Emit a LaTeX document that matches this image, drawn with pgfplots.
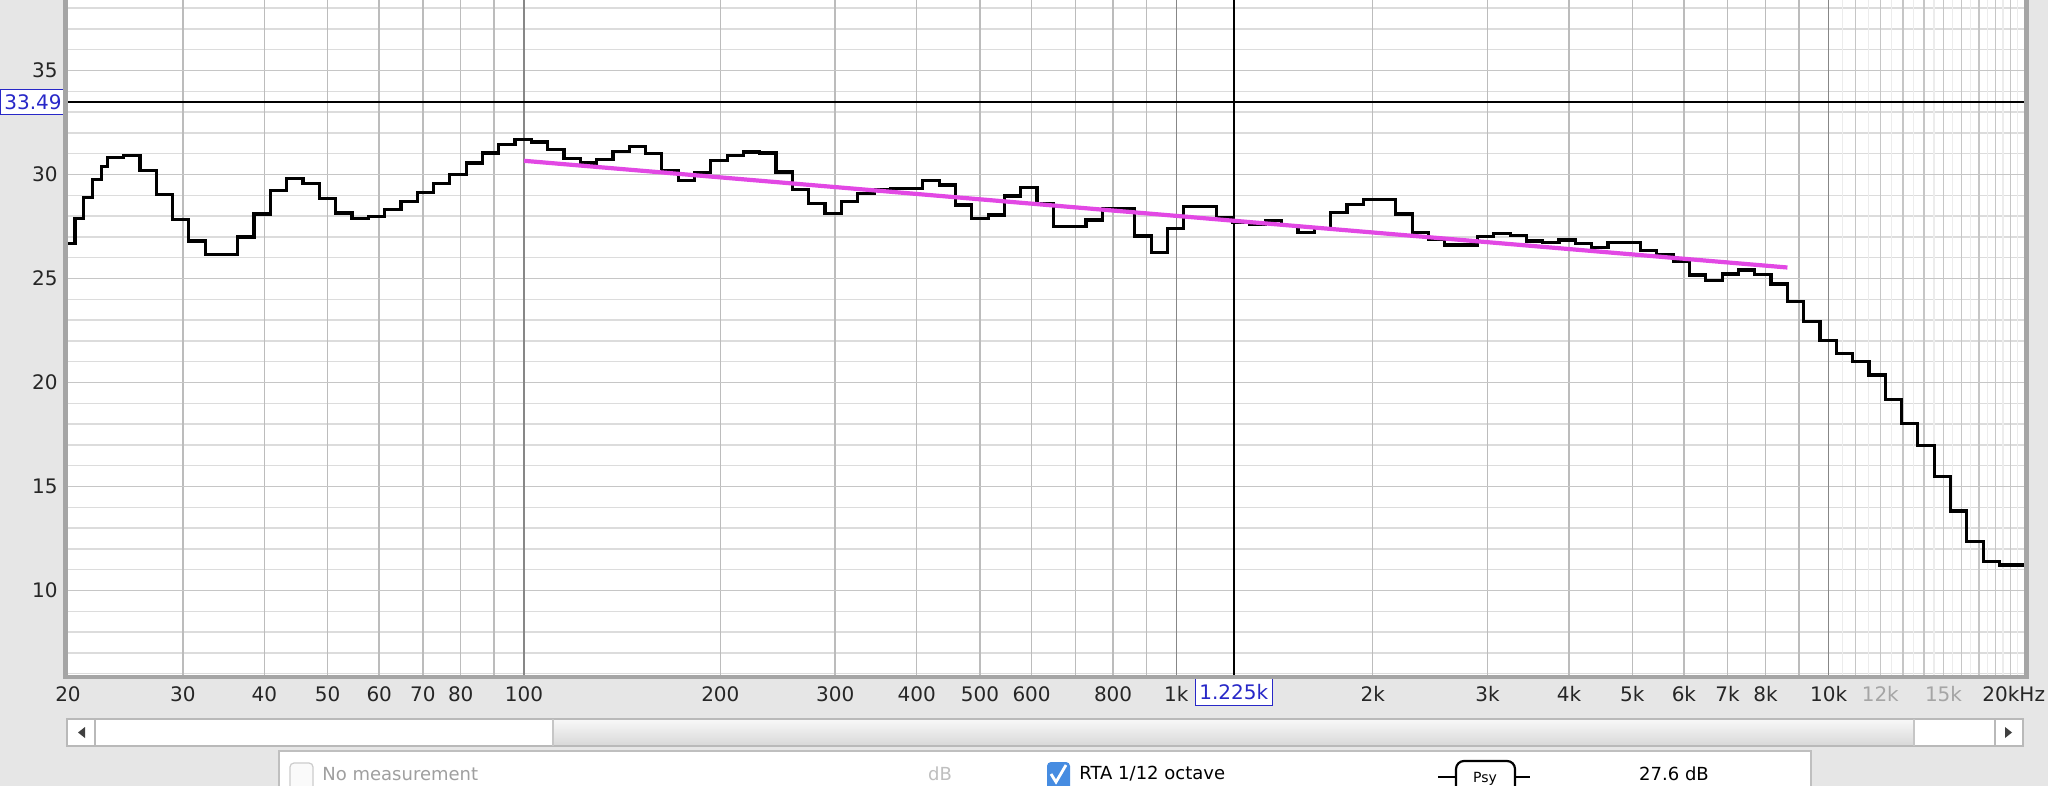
\documentclass[border=0pt]{standalone}
\usepackage{fontspec}
\setmainfont{DejaVu Sans}
\usepackage{pgfplots}
\usepackage{pgfplotstable}
\pgfplotsset{compat=1.18}
\definecolor{bgc}{RGB}{230,230,230}
\definecolor{gridl}{RGB}{220,220,220}
\definecolor{gridh}{RGB}{198,198,198}
\definecolor{gridv}{RGB}{188,188,188}
\definecolor{gridd}{RGB}{135,135,135}
\definecolor{gridf}{RGB}{236,236,236}
\definecolor{trend}{RGB}{226,72,228}
\definecolor{curblue}{RGB}{40,40,200}
\definecolor{chkblue}{RGB}{70,140,225}
\definecolor{lbl}{RGB}{165,165,165}
\definecolor{bord}{RGB}{165,165,165}

% step values of the RTA 1/12 octave curve: x = log10(frequency in Hz), y = dB
\pgfplotstableread{
lf db
1.3010 26.70
1.3118 27.88
1.3245 28.90
1.3383 29.75
1.3527 30.38
1.3613 30.80
1.3863 30.90
1.4113 30.20
1.4363 29.05
1.4613 27.85
1.4863 26.80
1.5113 26.15
1.5363 26.15
1.5613 27.00
1.5863 28.10
1.6113 29.25
1.6363 29.80
1.6613 29.55
1.6863 28.85
1.7113 28.15
1.7363 27.90
1.7614 28.00
1.7864 28.30
1.8114 28.72
1.8364 29.15
1.8614 29.55
1.8864 30.00
1.9114 30.55
1.9364 31.03
1.9614 31.45
1.9864 31.69
2.0114 31.56
2.0364 31.19
2.0614 30.76
2.0864 30.55
2.1114 30.71
2.1364 31.12
2.1614 31.35
2.1864 31.00
2.2114 30.20
2.2364 29.70
2.2614 30.08
2.2864 30.68
2.3114 30.92
2.3364 31.08
2.3614 31.03
2.3865 30.12
2.4115 29.27
2.4365 28.59
2.4615 28.11
2.4865 28.72
2.5115 29.10
2.5365 29.27
2.5615 29.33
2.5865 29.33
2.6115 29.70
2.6365 29.50
2.6615 28.53
2.6865 27.89
2.7115 28.05
2.7365 28.97
2.7615 29.37
2.7865 28.58
2.8115 27.49
2.8365 27.49
2.8615 27.81
2.8865 28.34
2.9115 28.34
2.9365 27.04
2.9616 26.24
2.9866 27.41
3.0116 28.45
3.0366 28.45
3.0616 27.94
3.0866 27.70
3.1116 27.60
3.1366 27.78
3.1616 27.53
3.1866 27.21
3.2116 27.41
3.2366 28.17
3.2616 28.54
3.2866 28.81
3.3116 28.81
3.3366 28.10
3.3616 27.21
3.3866 26.89
3.4116 26.61
3.4366 26.61
3.4617 27.01
3.4867 27.17
3.5117 27.05
3.5367 26.80
3.5617 26.74
3.5867 26.85
3.6117 26.69
3.6367 26.50
3.6617 26.74
3.6867 26.74
3.7117 26.34
3.7367 26.13
3.7617 25.81
3.7867 25.17
3.8117 24.90
3.8367 25.22
3.8617 25.41
3.8867 25.20
3.9117 24.74
3.9367 23.89
3.9617 22.92
3.9867 22.04
4.0117 21.40
4.0367 21.00
4.0617 20.36
4.0867 19.20
4.1117 18.04
4.1367 16.96
4.1618 15.47
4.1868 13.82
4.2118 12.35
4.2368 11.39
4.2618 11.23
4.3010 11.23
}\rta

\begin{document}
\begin{tikzpicture}
\begin{scope}[x=0.5pt,y=-0.5pt]
  \fill[bgc] (0,0) rectangle (2048,786);
  \fill[white] (68,0) rectangle (2025,675);
\end{scope}
\begin{axis}[
  at={(34pt,-337.5pt)}, anchor=south west,
  scale only axis, width=978.5pt, height=337.5pt,
  xmin=1.30103, xmax=4.30103, ymin=5.94, ymax=38.39,
  axis line style={draw=none},
  tick style={draw=none},
  major tick length=0pt, minor tick length=0pt,
  xtick={1.30103,1.47712,1.60206,1.69897,1.77815,1.84510,1.90309,2,2.30103,2.47712,2.60206,2.69897,2.77815,2.90309,3,3.30103,3.47712,3.60206,3.69897,3.77815,3.84510,3.90309,4,4.07918,4.17609,4.30103},
  xticklabels={20,30,40,50,60,70,80,100,200,300,400,500,600,800,1k,2k,3k,4k,5k,6k,7k,8k,10k,\textcolor{lbl}{12k},\textcolor{lbl}{15k},\makebox[0pt][r]{20kHz\hspace*{-10pt}}},
  ytick={10,15,20,25,30,35},
  yticklabels={10,15,20,25,30,35},
  extra x ticks={3.08814}, extra x tick labels={1.225k},
  extra y ticks={33.49}, extra y tick labels={33.49},
  xticklabel style={anchor=north, yshift=-2.2pt, text=black!85},
  yticklabel style={anchor=east, xshift=-1.7pt, text=black!85},
  extra x tick style={xticklabel style={draw=curblue, fill=white, text=curblue, inner xsep=2pt, inner ysep=3pt, yshift=0.7pt}},
  extra y tick style={yticklabel style={draw=curblue, fill=white, text=curblue, inner xsep=2pt, inner ysep=2.5pt, xshift=0.7pt}},
  /pgf/number format/assume math mode=true,
  clip=true,
]
% 1 dB grid
\pgfplotsinvokeforeach{6,7,8,9,11,12,13,14,16,17,18,19,21,22,23,24,26,27,28,29,31,32,33,34,36,37,38}{
  \draw[gridl, line width=0.7pt] (axis cs:1.30103,#1) -- (axis cs:4.30103,#1);}
% faint 500 Hz lines above 10 kHz
\pgfplotsinvokeforeach{4.02119,4.06070,4.09691,4.13033,4.16137,4.19033,4.21748,4.24304,4.26717,4.29003}{
  \draw[gridf, line width=0.6pt] (axis cs:#1,5.94) -- (axis cs:#1,38.39);}
% frequency grid
\pgfplotsinvokeforeach{1.47712,1.60206,1.69897,1.77815,1.84510,1.90309,1.95424,2.30103,2.47712,2.60206,2.69897,2.77815,2.84510,2.90309,2.95424,3.30103,3.47712,3.60206,3.69897,3.77815,3.84510,3.90309,3.95424}{
  \draw[gridv, line width=0.75pt] (axis cs:#1,5.94) -- (axis cs:#1,38.39);}
\pgfplotsinvokeforeach{4.04139,4.07918,4.11394,4.14613,4.17609,4.20412,4.23045,4.25527,4.27875}{
  \draw[gridl!90!black, line width=0.65pt] (axis cs:#1,5.94) -- (axis cs:#1,38.39);}
% 5 dB grid
\pgfplotsinvokeforeach{10,15,20,25,30,35}{
  \draw[gridh, line width=0.9pt] (axis cs:1.30103,#1) -- (axis cs:4.30103,#1);}
% decades
\pgfplotsinvokeforeach{2,3,4}{
  \draw[gridd, line width=0.8pt] (axis cs:#1,5.94) -- (axis cs:#1,38.39);}
% cursors
\draw[black, line width=0.9pt] (axis cs:3.08814,5.94) -- (axis cs:3.08814,38.39);
\draw[black, line width=0.9pt] (axis cs:1.30103,33.49) -- (axis cs:4.30103,33.49);
% RTA curve
\addplot[const plot, black, line width=1.6pt] table[x=lf, y=db] {\rta};
% trend line
\addplot[trend, line width=2.1pt] coordinates {(2.0,30.66) (3.9368,25.53)};
\end{axis}
\begin{scope}[x=0.5pt,y=-0.5pt]
  % plot frame bevel
  \draw[bord, line width=2.4pt] (65.5,-4) -- (65.5,677) -- (2026.5,677) -- (2026.5,-4);
  % scrollbar
  \fill[white] (67,719) rectangle (2023,746);
  \shade[top color=gray!6, bottom color=gray!30] (553,720) rectangle (1914,745);
  \draw[gray!55, line width=0.6pt] (67,719) rectangle (2023,746);
  \draw[gray!55, line width=0.6pt] (95,719) -- (95,746);
  \draw[gray!55, line width=0.6pt] (1995,719) -- (1995,746);
  \draw[gray!45, line width=0.6pt] (553,719) -- (553,746);
  \draw[gray!45, line width=0.6pt] (1914,719) -- (1914,746);
  \fill[black!75] (78,732.5) -- (85,727) -- (85,738) -- cycle;
  \fill[black!75] (2012,732.5) -- (2005,727) -- (2005,738) -- cycle;
  % bottom panel
  \fill[white] (279,751) rectangle (1811,800);
  \draw[gray!50, line width=0.6pt] (279,751) rectangle (1811,800);
  \draw[gray!40, fill=gray!4, rounded corners=2pt, line width=0.6pt] (290,763) rectangle (313,790);
  \node[anchor=west, text=gray!75, font=\fontsize{9}{10}\selectfont, inner sep=0pt] at (322,774) {No measurement};
  \node[text=gray!50, font=\fontsize{9}{10}\selectfont, inner sep=0pt] at (940,774) {dB};
  \fill[chkblue, rounded corners=2pt] (1047,762) rectangle (1070,790);
  \draw[white, line width=1.4pt] (1051,774) -- (1056,782) -- (1066,765);
  \node[anchor=west, font=\fontsize{9}{10}\selectfont, inner sep=0pt] at (1079,774) {RTA 1/12 octave};
  \draw[black, line width=1pt] (1438,777) -- (1456,777);
  \draw[black, line width=1pt] (1515,777) -- (1530,777);
  \draw[black, line width=1.1pt, rounded corners=4pt] (1456,792) -- (1456,761) -- (1515,761) -- (1515,792);
  \node[font=\fontsize{7}{8}\selectfont, inner sep=0pt] at (1485,779) {Psy};
  \node[font=\fontsize{9}{10}\selectfont, inner sep=0pt] at (1674,774) {27.6 dB};
\end{scope}
\pgfresetboundingbox
\path[use as bounding box] (0,0) rectangle (1024pt,-393pt);
\end{tikzpicture}
\end{document}
